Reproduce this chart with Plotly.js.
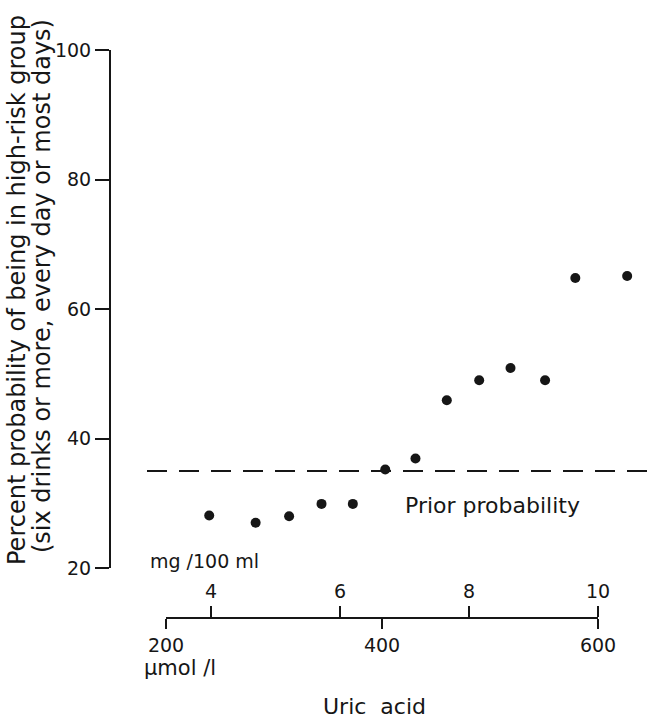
<!DOCTYPE html>
<html><head><meta charset="utf-8">
<script src="https://cdn.plot.ly/plotly-3.0.1.min.js"></script>
<style>html,body{margin:0;padding:0;background:#fff}</style>
</head><body>
<div id="chart" style="width:650px;height:718px"></div>
<script>
// ---- data ----
const uricUmol = [240, 283, 314, 344, 373, 403, 431, 460, 490, 519, 551, 579, 627];
const pctHighRisk = [28.1, 27.0, 28.0, 29.9, 29.9, 35.2, 36.9, 45.9, 49.0, 50.9, 49.0, 64.8, 65.1];
const priorProbability = 35;
const umolTicks = [200, 400, 600];
const mgTicks = [4, 6, 8, 10];
const yTicks = [20, 40, 60, 80, 100];

// ---- layout geometry (pixels) ----
const W = 650, H = 718, L = 111, R = 0, T = 50, B = 100;
const plotW = W - L - R, plotH = H - T - B;
const px = x => (x - L) / plotW;
const py = y => (H - B - y) / plotH;
const umolPx0 = 166, umolPx1 = 598;
const perUmol = (umolPx1 - umolPx0) / (umolTicks[2] - umolTicks[0]);
const xMin = umolTicks[0] - (umolPx0 - L) / perUmol;
const xMax = umolTicks[2] + (W - R - umolPx1) / perUmol;
const axDomain = [px(umolPx0), px(umolPx1)];
const mgPx4 = 211;
const perMg = (umolPx1 - mgPx4) / (mgTicks[3] - mgTicks[0]);
const mgMin = mgTicks[0] - (mgPx4 - umolPx0) / perMg;

const ink = '#161616';
const FONT = 'DejaVu Sans, Liberation Sans, sans-serif';

const trace = {
  x: uricUmol, y: pctHighRisk, type: 'scatter', mode: 'markers',
  marker: {size: 10, color: ink}, xaxis: 'x', yaxis: 'y', hoverinfo: 'x+y'
};
// empty carriers so the two printed scales get drawn
const scaleUmol = {x: [], y: [], type: 'scatter', mode: 'markers', xaxis: 'x2', yaxis: 'y', hoverinfo: 'skip'};
const scaleMg = {x: [], y: [], type: 'scatter', mode: 'markers', xaxis: 'x3', yaxis: 'y', hoverinfo: 'skip'};

const axCommon = {showgrid: false, zeroline: false, showline: true, linecolor: ink,
  linewidth: 2, ticks: 'outside', tickcolor: ink, tickwidth: 2,
  tickfont: {family: FONT, size: 19, color: ink}, fixedrange: true};

const layout = {
  width: W, height: H,
  margin: {l: L, r: R, t: T, b: B, pad: 0},
  paper_bgcolor: '#fff', plot_bgcolor: 'rgba(0,0,0,0)',
  showlegend: false,
  font: {family: FONT, color: ink},
  xaxis: {domain: [0, 1], range: [xMin, xMax], visible: false, fixedrange: true},
  yaxis: Object.assign({}, axCommon, {domain: [py(568), 1], range: [20, 100],
    tickvals: yTicks, ticktext: yTicks.map(String), ticklen: 14, anchor: 'x'}),
  xaxis2: Object.assign({}, axCommon, {domain: axDomain, range: [umolTicks[0], umolTicks[2]],
    tickvals: umolTicks, ticktext: umolTicks.map(String), ticklen: 10,
    anchor: 'free', position: 0, side: 'bottom'}),
  xaxis3: Object.assign({}, axCommon, {domain: axDomain, range: [mgMin, mgTicks[3]],
    tickvals: mgTicks, ticktext: mgTicks.map(String), ticklen: 11,
    anchor: 'free', position: 0, side: 'top'}),
  shapes: [{type: 'line', xref: 'x', yref: 'y',
    x0: xMin + (147 - L) / perUmol, x1: xMax, y0: priorProbability, y1: priorProbability,
    line: {color: ink, width: 2, dash: '20px,12px'}}],
  annotations: [
    {text: 'Percent probability of being in high-risk group', textangle: -90,
     xref: 'paper', yref: 'paper', x: px(17), y: py(290), xanchor: 'center', yanchor: 'middle',
     showarrow: false, font: {family: FONT, size: 24, color: ink}},
    {text: '(six drinks or more, every day or most days)', textangle: -90,
     xref: 'paper', yref: 'paper', x: px(42), y: py(286), xanchor: 'center', yanchor: 'middle',
     showarrow: false, font: {family: FONT, size: 24, color: ink}},
    {text: 'Prior probability', xref: 'paper', yref: 'paper', x: px(403), y: py(505),
     xanchor: 'left', yanchor: 'middle', showarrow: false, font: {family: FONT, size: 22, color: ink}},
    {text: 'mg /100 ml', xref: 'paper', yref: 'paper', x: px(148), y: py(561),
     xanchor: 'left', yanchor: 'middle', showarrow: false, font: {family: FONT, size: 19, color: ink}},
    {text: 'µmol /l', xref: 'paper', yref: 'paper', x: px(142), y: py(668),
     xanchor: 'left', yanchor: 'middle', showarrow: false, font: {family: FONT, size: 21, color: ink}},
    {text: 'Uric  acid', xref: 'paper', yref: 'paper', x: px(374), y: py(706),
     xanchor: 'center', yanchor: 'middle', showarrow: false, font: {family: FONT, size: 22, color: ink}}
  ]
};

Plotly.newPlot('chart', [trace, scaleUmol, scaleMg], layout, {displayModeBar: false, staticPlot: true});
</script>
</body></html>
